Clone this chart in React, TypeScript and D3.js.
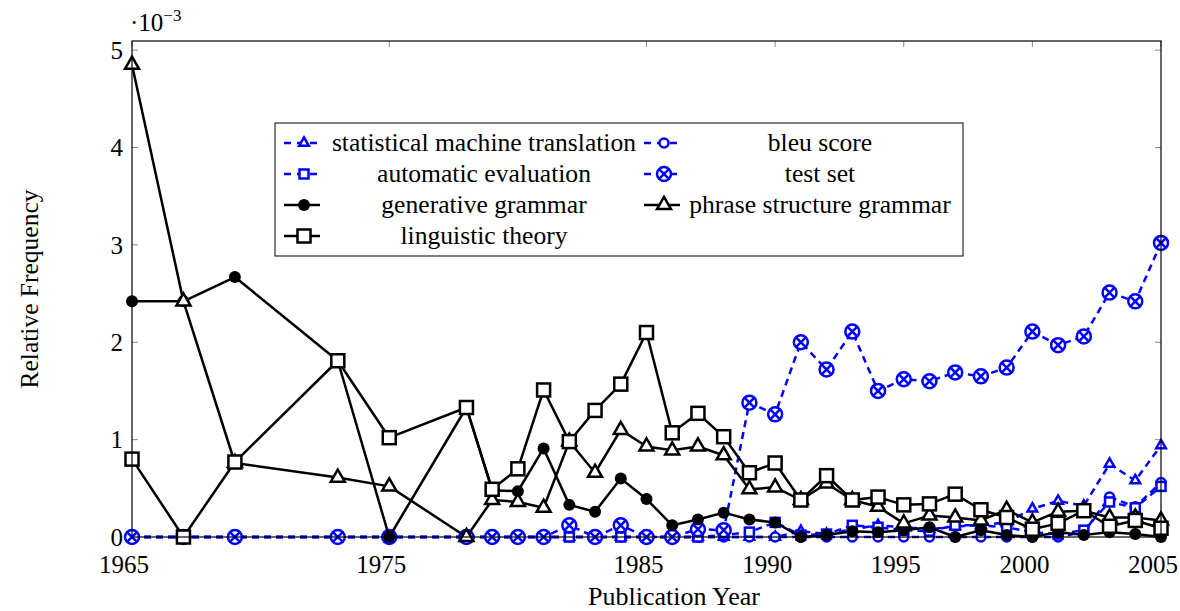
import React from "react";
import * as d3 from "d3";

const years = [1965, 1967, 1969, 1973, 1975, 1978, 1979, 1980, 1981, 1982, 1983, 1984, 1985, 1986, 1987, 1988, 1989, 1990, 1991, 1992, 1993, 1994, 1995, 1996, 1997, 1998, 1999, 2000, 2001, 2002, 2003, 2004, 2005];

// values in 1e-3
const smt = [0, 0, 0, 0, 0, 0, 0, 0, 0, 0, 0, 0, 0, 0, 0, 0, 0, 0, 0.06, 0.03, 0.08, 0.12, 0.1, 0.08, 0.11, 0.12, 0.15, 0.29, 0.37, 0.32, 0.75, 0.58, 0.94];
const bleu = [0, 0, 0, 0, 0, 0, 0, 0, 0, 0, 0, 0, 0, 0, 0, 0, 0, 0, 0, 0, 0, 0, 0, 0, 0, 0, 0, 0, 0, 0.05, 0.41, 0.31, 0.56];
const autoEval = [0, 0, 0, 0, 0, 0, 0, 0, 0, 0, 0, 0, 0, 0, 0, 0.02, 0.05, 0.15, 0.02, 0.03, 0.12, 0.1, 0.07, 0.06, 0.12, 0.12, 0.1, 0.05, 0.03, 0.07, 0.36, 0.3, 0.52];
const testSet = [0, 0, 0, 0, 0, 0, 0, 0, 0, 0.12, 0, 0.12, 0, 0, 0.08, 0.07, 1.38, 1.26, 2.0, 1.72, 2.11, 1.5, 1.62, 1.6, 1.69, 1.65, 1.74, 2.11, 1.97, 2.06, 2.51, 2.42, 3.02];
const generative = [2.42, 2.42, 2.67, 1.81, 0, 1.33, 0.48, 0.47, 0.91, 0.33, 0.26, 0.6, 0.39, 0.12, 0.18, 0.25, 0.18, 0.15, 0, 0.02, 0.06, 0.05, 0.07, 0.1, 0, 0.07, 0.02, 0, 0.05, 0.02, 0.05, 0.03, 0];
const phrase = [4.85, 2.42, 0.76, 0.61, 0.52, 0, 0.38, 0.36, 0.3, 0.98, 0.66, 1.1, 0.93, 0.89, 0.93, 0.84, 0.49, 0.51, 0.38, 0.55, 0.38, 0.31, 0.14, 0.22, 0.2, 0.17, 0.28, 0.15, 0.26, 0.27, 0.2, 0.2, 0.17];
const linguistic = [0.8, 0, 0.77, 1.81, 1.02, 1.33, 0.49, 0.7, 1.51, 0.98, 1.3, 1.57, 2.1, 1.07, 1.27, 1.03, 0.66, 0.76, 0.38, 0.63, 0.38, 0.41, 0.33, 0.34, 0.44, 0.28, 0.2, 0.08, 0.14, 0.27, 0.11, 0.17, 0.09];

const xTicks = [1965, 1975, 1985, 1990, 1995, 2000, 2005];
const yTicks = [0, 1, 2, 3, 4, 5];

type Mark = "tri" | "circ" | "sq" | "otimes" | "dot" | "bsq" | "btri";
const series: { name: string; values: number[]; color: string; dashed: boolean; mark: Mark }[] = [
  { name: "statistical machine translation", values: smt, color: "#0000ff", dashed: true, mark: "tri" },
  { name: "bleu score", values: bleu, color: "#0000ff", dashed: true, mark: "circ" },
  { name: "automatic evaluation", values: autoEval, color: "#0000ff", dashed: true, mark: "sq" },
  { name: "test set", values: testSet, color: "#0000ff", dashed: true, mark: "otimes" },
  { name: "generative grammar", values: generative, color: "#000", dashed: false, mark: "dot" },
  { name: "phrase structure grammar", values: phrase, color: "#000", dashed: false, mark: "btri" },
  { name: "linguistic theory", values: linguistic, color: "#000", dashed: false, mark: "bsq" },
];

const W = 1180, H = 611;
const left = 132, right = 1161, top = 41, bottom = 537;
const FONT = "'Liberation Serif', 'Times New Roman', serif";

function Marker({ kind, x, y, color }: { kind: Mark; x: number; y: number; color: string }) {
  const t = `translate(${x},${y})`;
  switch (kind) {
    case "tri":
      return <path transform={t} d={d3.symbol(d3.symbolTriangle, 40)()!} fill="#fff" stroke={color} strokeWidth={2.5} />;
    case "circ":
      return <circle cx={x} cy={y} r={4.5} fill="#fff" stroke={color} strokeWidth={2.5} />;
    case "sq":
      return <rect x={x - 4.5} y={y - 4.5} width={9} height={9} fill="#fff" stroke={color} strokeWidth={2.5} />;
    case "otimes": {
      const r = 7, k = r * Math.SQRT1_2;
      return (
        <g transform={t}>
          <circle r={r} fill="#fff" stroke={color} strokeWidth={2.5} />
          <path d={`M${-k},${-k}L${k},${k}M${-k},${k}L${k},${-k}`} stroke={color} strokeWidth={2.5} />
        </g>
      );
    }
    case "dot":
      return <circle cx={x} cy={y} r={6} fill={color} />;
    case "btri":
      return <path transform={t} d={d3.symbol(d3.symbolTriangle, 85)()!} fill="#fff" stroke={color} strokeWidth={2.5} />;
    case "bsq":
      return <rect x={x - 6.5} y={y - 6.5} width={13} height={13} fill="#fff" stroke={color} strokeWidth={2.5} />;
  }
}

export default function App() {
  const x = d3.scaleLinear().domain([1965, 2005]).range([left, right]);
  const y = d3.scaleLinear().domain([0, 5.094]).range([bottom, top]);
  const line = d3.line<number>().x((_, i) => x(years[i])).y((v) => y(v));

  const legendRows = [
    [series[0], series[1]],
    [series[2], series[3]],
    [series[4], series[5]],
    [series[6]],
  ];
  const lgX = 275, lgY = 123, lgW = 688, lgH = 133;
  const rowY = [143, 174, 205, 236];
  const sampleX = [284, 644];
  const textX = [484, 820];

  return (
    <svg width={W} height={H} style={{ position: "absolute", left: 0, top: 0, background: "#fff" }} fontFamily={FONT}>
      {/* ticks */}
      {yTicks.map((t) => (
        <g key={"y" + t} stroke="#888" strokeWidth={1}>
          <line x1={left} x2={left + 6} y1={y(t)} y2={y(t)} />
          <line x1={right} x2={right - 6} y1={y(t)} y2={y(t)} />
        </g>
      ))}
      {xTicks.map((t) => (
        <g key={"x" + t} stroke="#888" strokeWidth={1}>
          <line x1={x(t)} x2={x(t)} y1={top} y2={top + 6} />
          <line x1={x(t)} x2={x(t)} y1={bottom} y2={bottom - 6} />
        </g>
      ))}

      {/* series */}
      {series.map((s) => (
        <g key={s.name}>
          <path d={line(s.values)!} fill="none" stroke={s.color} strokeWidth={2.5}
            strokeDasharray={s.dashed ? "7,5" : undefined} strokeLinejoin="round" />
          {s.values.map((v, i) => (
            <Marker key={i} kind={s.mark} x={x(years[i])} y={y(v)} color={s.color} />
          ))}
        </g>
      ))}

      {/* frame */}
      <rect x={left} y={top} width={right - left} height={bottom - top} fill="none" stroke="#000" strokeWidth={1.2} />

      {/* tick labels */}
      {yTicks.map((t) => (
        <text key={"yl" + t} x={left - 9} y={y(t)} dy="0.35em" textAnchor="end" fontSize={25}>{t}</text>
      ))}
      {xTicks.map((t) => (
        <text key={"xl" + t} x={x(t) - 8} y={573} textAnchor="middle" fontSize={25}>{t}</text>
      ))}
      <text x={left - 2} y={31} fontSize={25}>·10<tspan dy={-10} fontSize={17}>−3</tspan></text>

      {/* axis titles */}
      <text x={674} y={605} textAnchor="middle" fontSize={26}>Publication Year</text>
      <text transform={`translate(38,${(top + bottom) / 2}) rotate(-90)`} textAnchor="middle" fontSize={25.5}>Relative Frequency</text>

      {/* legend */}
      <rect x={lgX} y={lgY} width={lgW} height={lgH} fill="#fff" stroke="#000" strokeWidth={1} />
      {legendRows.map((row, ri) =>
        row.map((s, ci) => (
          <g key={s.name}>
            <line x1={sampleX[ci]} x2={sampleX[ci] + 36} y1={rowY[ri]} y2={rowY[ri]} stroke={s.color} strokeWidth={2.5}
              strokeDasharray={s.dashed ? "7,6" : undefined} />
            <Marker kind={s.mark} x={sampleX[ci] + 20} y={rowY[ri]} color={s.color} />
            <text x={textX[ci]} y={rowY[ri]} dy="0.33em" textAnchor="middle" fontSize={25.6}>{s.name}</text>
          </g>
        ))
      )}
    </svg>
  );
}
